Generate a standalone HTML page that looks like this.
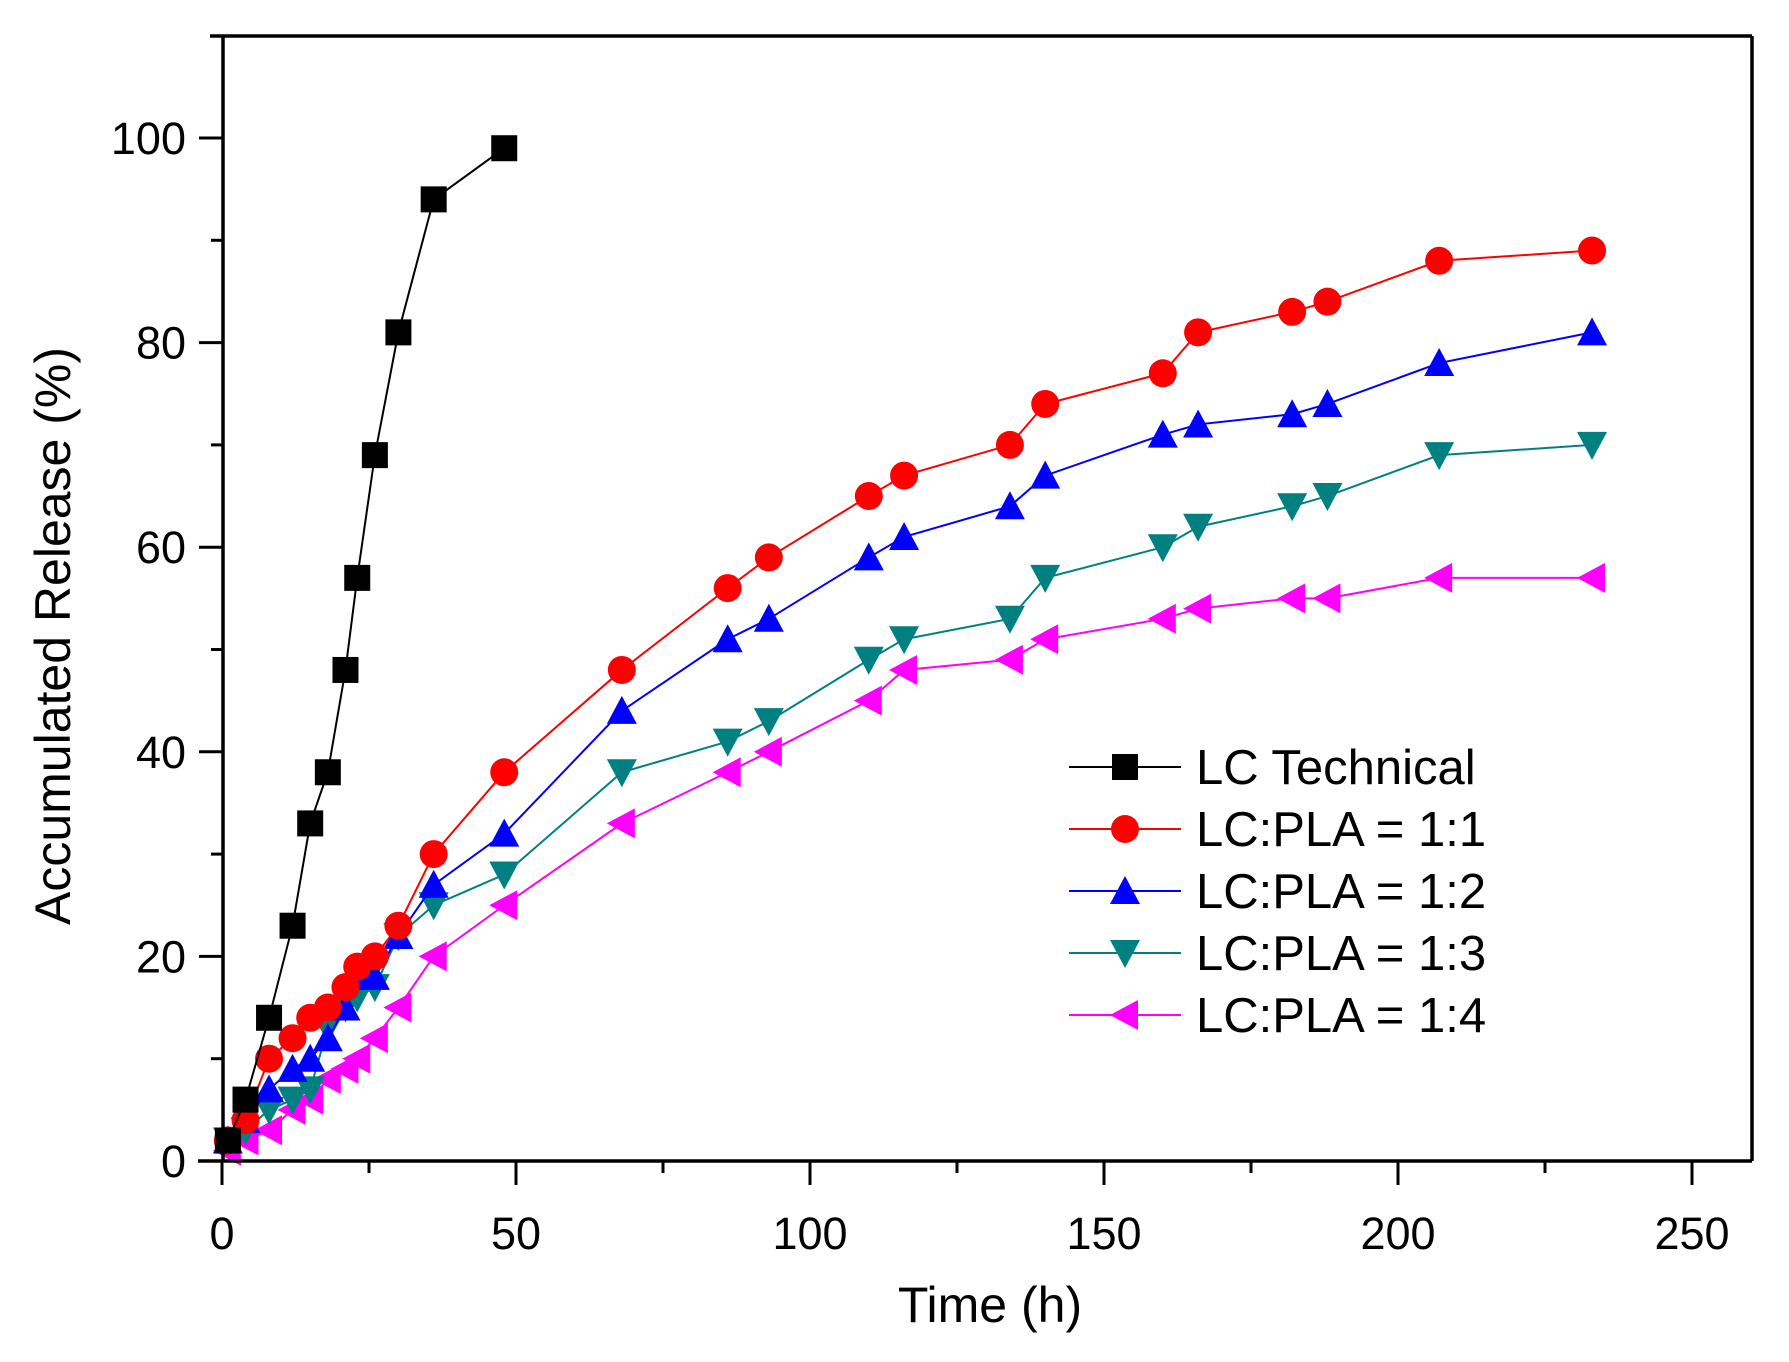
<!DOCTYPE html>
<html><head><meta charset="utf-8"><style>
html,body{margin:0;padding:0;background:#fff;}
svg{display:block;font-family:"Liberation Sans",Arial,sans-serif;}
</style></head><body>
<svg id="s" width="1789" height="1362" viewBox="0 0 1789 1362" xmlns="http://www.w3.org/2000/svg">
<rect width="1789" height="1362" fill="#fff"/>
<g id="plot"></g>
<g stroke="#000" stroke-width="3.5" fill="none">
<line x1="210" y1="36" x2="1752" y2="36"/>
<line x1="223" y1="36" x2="223" y2="1161"/>
<line x1="198" y1="1161" x2="1752" y2="1161"/>
<line x1="1752" y1="36" x2="1752" y2="1161"/>
</g>
<g id="ticks" stroke="#000" stroke-width="3"></g>
<g id="labels" font-size="45" fill="#000"></g>
<text x="990" y="1322" font-size="50" text-anchor="middle">Time (h)</text>
<text transform="translate(70,636) rotate(-90)" font-size="50" text-anchor="middle">Accumulated Release (%)</text>
<g id="legend" font-size="49"></g>
</svg>
<script>
const NS="http://www.w3.org/2000/svg";
const X=t=>222+5.88*t, Y=v=>1161-10.23*v;
function el(p,n,a,txt){const e=document.createElementNS(NS,n);for(const k in a)e.setAttribute(k,a[k]);if(txt!=null)e.textContent=txt;p.appendChild(e);return e;}
const tk=document.getElementById('ticks'),lb=document.getElementById('labels');
for(let t=0;t<=250;t+=25){const maj=t%50==0;el(tk,'line',{x1:X(t),y1:1161,x2:X(t),y2:1161+(maj?24:12)});
 if(maj)el(lb,'text',{x:X(t),y:1249,'text-anchor':'middle'},t);}
for(let v=0;v<=100;v+=10){const maj=v%20==0;el(tk,'line',{x1:223,y1:Y(v),x2:223-(maj?24:12),y2:Y(v)});
 if(maj)el(lb,'text',{x:186,y:Y(v)+16,'text-anchor':'end'},v);}
const tt=[1,4,8,12,15,18,21,23,26,30,36,48,68,86,93,110,116,134,140,160,166,182,188,207,233];
const S=[
 {c:'#000',m:'sq',d:[[1,2],[4,6],[8,14],[12,23],[15,33],[18,38],[21,48],[23,57],[26,69],[30,81],[36,94],[48,99]]},
 {c:'#ff0000',m:'ci',v:[2,4,10,12,14,15,17,19,20,23,30,38,48,56,59,65,67,70,74,77,81,83,84,88,89]},
 {c:'#0000ff',m:'up',v:[2,4,7,9,10,12,15,18,18,22,27,32,44,51,53,59,61,64,67,71,72,73,74,78,81]},
 {c:'#008080',m:'dn',v:[2,3,5,6,7,13,15,16,17,22,25,28,38,41,43,49,51,53,57,60,62,64,65,69,70]},
 {c:'#ff00ff',m:'lf',v:[1,2,3,5,6,8,9,10,12,15,20,25,33,38,40,45,48,49,51,53,54,55,55,57,57]}];
function mk(p,m,x,y,c){const r=13;
 if(m=='sq')el(p,'rect',{x:x-r,y:y-r,width:2*r,height:2*r,fill:c});
 else if(m=='ci')el(p,'circle',{cx:x,cy:y,r:r+1,fill:c});
 else if(m=='up')el(p,'polygon',{points:`${x},${y-r-2} ${x-r-2},${y+r} ${x+r+2},${y+r}`,fill:c});
 else if(m=='dn')el(p,'polygon',{points:`${x},${y+r+2} ${x-r-2},${y-r} ${x+r+2},${y-r}`,fill:c});
 else el(p,'polygon',{points:`${x-r-2},${y} ${x+r},${y-r-2} ${x+r},${y+r+2}`,fill:c});}
const pl=document.getElementById('plot');
[...S].reverse().forEach(s=>{const d=s.d||tt.map((t,i)=>[t,s.v[i]]);
 el(pl,'polyline',{points:d.map(p=>X(p[0])+','+Y(p[1])).join(' '),fill:'none',stroke:s.c,'stroke-width':2});
 d.forEach(p=>mk(pl,s.m,X(p[0]),Y(p[1]),s.c));});
const lg=document.getElementById('legend');
const names=['LC Technical','LC:PLA = 1:1','LC:PLA = 1:2','LC:PLA = 1:3','LC:PLA = 1:4'];
S.forEach((s,i)=>{const y=767+62*i;el(lg,'line',{x1:1069,y1:y,x2:1181,y2:y,stroke:s.c,'stroke-width':2});
 mk(lg,s.m,1125,y,s.c);el(lg,'text',{x:1196,y:y+17,fill:'#000'},names[i]);});
</script>
</body></html>
